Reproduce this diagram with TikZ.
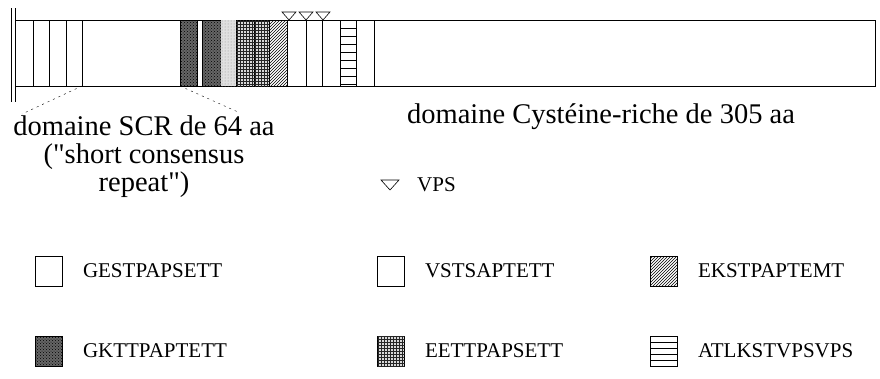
\documentclass[tikz,border=0pt]{standalone}
\usepackage{fontspec}
\setmainfont{Liberation Serif}[Ligatures=TeXOff]
\usetikzlibrary{patterns, positioning}

\begin{document}
\begin{tikzpicture}[
    x=1pt, y=-1pt,
    every node/.style={font=\fontsize{21}{24}\selectfont, inner sep=0pt},
    blankbox/.style={draw, line width=0.6pt, fill=white},
    gkbox/.style={draw, line width=0.6pt, fill=black!60,
        postaction={pattern=crosshatch dots, pattern color=black}},
    eebox/.style={draw, line width=0.6pt, fill=black!15,
        postaction={pattern=grid, pattern color=black!85}},
    ekbox/.style={draw, line width=0.6pt, fill=white,
        postaction={pattern=north east lines, pattern color=black}},
    lightbox/.style={fill=black!12,
        postaction={pattern=dots, pattern color=black!45}},
    hlinebox/.style={draw, line width=0.6pt, fill=white,
        path picture={
            \foreach \k in {1,...,12}
                \draw ([yshift=-\k*#1]path picture bounding box.north west)
                    -- ([yshift=-\k*#1]path picture bounding box.north east);
        }},
    hlinebox/.default=6pt,
    bigtext/.style={font=\fontsize{28.5}{28}\selectfont},
]
\useasboundingbox (0,0) rectangle (880,378);

\def\bt{20}   % top of the bar
\def\bb{86}   % bottom of the bar

% ---------------------------------------------------------------- bar
\draw[line width=0.8pt] (15,\bt) -- (875,\bt) -- (875,\bb) -- (15,\bb);
\draw (11,8) -- (11,102);
\draw (15,8) -- (15,102);

% the SCR repeats, then the patterned motifs
\foreach \x in {33,49,66,82}
    \draw (\x,\bt) -- (\x,\bb);
\draw[gkbox] (180,\bt) rectangle (197,\bb);
\draw[gkbox] (202,\bt) rectangle (221,\bb);
\fill[lightbox] (221,\bt) rectangle (236,\bb);
\draw[eebox] (236,\bt) rectangle (254,\bb);
\draw[eebox] (254,\bt) rectangle (269,\bb);
\draw[ekbox] (269,\bt) rectangle (287,\bb);
\foreach \x in {306,322,374}
    \draw (\x,\bt) -- (\x,\bb);
\draw[hlinebox=8pt] (340,\bt) rectangle (356,\bb);

% VPS sites on top of the bar
\foreach \x in {289,306,323}
    \draw[fill=white, line width=0.6pt] (\x-7,12) -- (\x+7,12) -- (\x,\bt) -- cycle;

% ---------------------------------------------------------------- domains
\node[bigtext, align=center] (scr) at (144,157)
    {domaine SCR de 64 aa\\("short consensus\\repeat")};
\node[bigtext] (cys) at (601,117) {domaine Cystéine-riche de 305 aa};

\coordinate (scrleft) at (82,\bb);
\coordinate (scrright) at (180,\bb);
\coordinate (scrleftend) at (22,114);
\coordinate (scrrightend) at (238,112);
\draw[dash pattern=on 2pt off 4pt] (scrleft) -- (scrleftend);
\draw[dash pattern=on 2pt off 4pt] (scrright) -- (scrrightend);

% ---------------------------------------------------------------- legend
\coordinate (kvps) at (390,185);
\draw[line width=0.6pt] ([shift={(-9,-5)}]kvps) -- ([shift={(9,-5)}]kvps)
    -- ([shift={(0,5)}]kvps) -- cycle;
\node[anchor=west] (tvps) at (417,185) {VPS};

\node[blankbox, minimum width=27, minimum height=30] (kgest) at (49,271) {};
\node[right=20pt of kgest] (tgest) {GESTPAPSETT};
\node[blankbox, minimum width=27, minimum height=30] (kvsts) at (391,271) {};
\node[right=20pt of kvsts] (tvsts) {VSTSAPTETT};
\node[ekbox, minimum width=27, minimum height=30] (kekst) at (664,271) {};
\node[right=20pt of kekst] (tekst) {EKSTPAPTEMT};

\node[gkbox, minimum width=27, minimum height=30] (kgktt) at (49,351) {};
\node[right=20pt of kgktt] (tgktt) {GKTTPAPTETT};
\node[eebox, minimum width=27, minimum height=30] (keett) at (391,351) {};
\node[right=20pt of keett] (teett) {EETTPAPSETT};
\node[hlinebox, minimum width=27, minimum height=30] (katlk) at (664,351) {};
\node[right=20pt of katlk] (tatlk) {ATLKSTVPSVPS};

\end{tikzpicture}
\end{document}
